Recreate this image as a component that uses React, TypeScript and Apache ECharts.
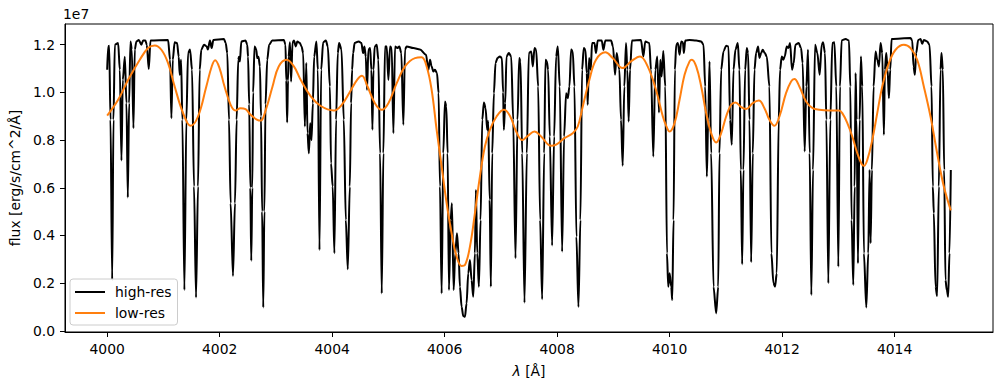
import React, { useEffect, useRef } from "react";
import * as echarts from "echarts";

// High-resolution spectrum: [wavelength (Å), flux (1e7 erg/s/cm^2/Å)]
const highRes: [number, number][] = [
  [4000.0, 1.095], [4000.018, 1.193], [4000.036, 1.196], [4000.059, 0.885], [4000.089, 0.213], [4000.112, 0.885],
  [4000.136, 1.2], [4000.195, 1.207], [4000.225, 1.095], [4000.254, 0.714], [4000.278, 1.053], [4000.314, 1.15],
  [4000.343, 0.955], [4000.367, 0.559], [4000.39, 0.955], [4000.414, 1.214], [4000.438, 1.18], [4000.467, 0.85],
  [4000.491, 1.18], [4000.52, 1.214], [4000.562, 1.22], [4000.609, 1.2], [4000.639, 1.218], [4000.68, 1.218],
  [4000.704, 1.2], [4000.74, 1.098], [4000.77, 1.218], [4001.083, 1.22], [4001.118, 1.137], [4001.142, 0.892],
  [4001.166, 1.137], [4001.2, 1.21], [4001.243, 1.207], [4001.272, 1.15], [4001.29, 1.074], [4001.314, 1.137],
  [4001.337, 0.885], [4001.373, 0.171], [4001.408, 0.885], [4001.438, 1.165], [4001.473, 1.18], [4001.509, 1.095],
  [4001.544, 0.605], [4001.58, 0.14], [4001.615, 0.605], [4001.645, 1.095], [4001.674, 1.18], [4001.722, 1.2],
  [4001.769, 1.193], [4001.79, 1.18], [4001.828, 1.218], [4001.858, 1.186], [4001.888, 1.22], [4002.077, 1.224],
  [4002.107, 1.207], [4002.136, 1.165], [4002.166, 0.885], [4002.195, 0.535], [4002.237, 0.23], [4002.272, 0.535],
  [4002.302, 0.885], [4002.33, 1.137], [4002.345, 1.15], [4002.36, 1.13], [4002.385, 1.214], [4002.46, 1.218],
  [4002.49, 1.2], [4002.505, 1.15], [4002.525, 0.95], [4002.545, 0.6], [4002.562, 0.294], [4002.58, 0.6],
  [4002.595, 1.0], [4002.62, 1.193], [4002.65, 1.18], [4002.669, 1.144], [4002.69, 1.15], [4002.716, 1.109],
  [4002.735, 0.9], [4002.755, 0.5], [4002.775, 0.098], [4002.795, 0.5], [4002.815, 0.95], [4002.846, 1.137],
  [4002.88, 1.2], [4002.935, 1.218], [4003.142, 1.22], [4003.17, 1.2], [4003.185, 1.05], [4003.2, 0.874],
  [4003.215, 1.05], [4003.225, 1.15], [4003.25, 1.21], [4003.27, 1.046], [4003.296, 1.21], [4003.32, 1.218],
  [4003.355, 1.193], [4003.38, 1.214], [4003.426, 1.207], [4003.456, 1.193], [4003.485, 1.165], [4003.515, 0.857],
  [4003.54, 1.123], [4003.562, 0.829], [4003.586, 0.745], [4003.61, 0.871], [4003.633, 0.8], [4003.657, 0.955],
  [4003.68, 1.15], [4003.72, 1.214], [4003.746, 1.095], [4003.775, 0.339], [4003.805, 1.095], [4003.84, 1.21],
  [4003.888, 1.218], [4003.923, 1.193], [4003.96, 1.025], [4003.98, 0.703], [4004.01, 0.605], [4004.04, 0.325],
  [4004.07, 0.885], [4004.1, 1.165], [4004.124, 1.207], [4004.166, 1.18], [4004.207, 0.885], [4004.243, 0.465],
  [4004.278, 0.258], [4004.314, 0.605], [4004.337, 0.955], [4004.355, 1.095], [4004.373, 1.165], [4004.4, 1.207],
  [4004.473, 1.214], [4004.52, 1.207], [4004.55, 1.165], [4004.574, 1.193], [4004.598, 1.15], [4004.62, 1.011],
  [4004.645, 1.18], [4004.675, 1.186], [4004.698, 1.095], [4004.716, 0.843], [4004.734, 1.095], [4004.757, 1.193],
  [4004.793, 1.2], [4004.822, 1.137], [4004.852, 0.745], [4004.882, 0.157], [4004.911, 0.745], [4004.94, 1.193],
  [4004.97, 1.193], [4005.0, 1.053], [4005.03, 1.193], [4005.059, 1.186], [4005.089, 0.829], [4005.118, 1.193],
  [4005.16, 1.186], [4005.195, 1.193], [4005.23, 1.165], [4005.266, 0.864], [4005.296, 1.18], [4005.325, 1.193],
  [4005.444, 1.186], [4005.562, 1.18], [4005.669, 1.158], [4005.71, 1.095], [4005.74, 1.137], [4005.769, 1.109],
  [4005.799, 1.088], [4005.828, 1.095], [4005.864, 1.081], [4005.893, 0.997], [4005.917, 0.605], [4005.947, 0.157],
  [4005.976, 0.745], [4006.006, 0.962], [4006.03, 0.941], [4006.053, 0.745], [4006.077, 0.171], [4006.107, 0.465],
  [4006.13, 0.535], [4006.16, 0.171], [4006.189, 0.325], [4006.219, 0.409], [4006.248, 0.325], [4006.272, 0.185],
  [4006.302, 0.101], [4006.331, 0.062], [4006.361, 0.059], [4006.39, 0.115], [4006.42, 0.241], [4006.45, 0.297],
  [4006.479, 0.213], [4006.509, 0.143], [4006.538, 0.325], [4006.556, 0.591], [4006.58, 0.325], [4006.609, 0.185],
  [4006.639, 0.465], [4006.669, 0.885], [4006.698, 0.958], [4006.728, 0.934], [4006.757, 0.843], [4006.775, 0.88],
  [4006.8, 0.55], [4006.822, 0.185], [4006.846, 0.745], [4006.876, 0.997], [4006.905, 1.123], [4006.94, 1.144],
  [4006.982, 1.151], [4007.018, 1.144], [4007.04, 1.0], [4007.053, 0.843], [4007.077, 0.955], [4007.1, 1.151],
  [4007.142, 1.165], [4007.184, 1.151], [4007.219, 0.885], [4007.26, 0.304], [4007.296, 0.885], [4007.326, 1.144],
  [4007.349, 1.13], [4007.379, 0.745], [4007.42, 0.118], [4007.462, 0.745], [4007.497, 1.165], [4007.539, 1.172],
  [4007.568, 1.109], [4007.598, 1.186], [4007.627, 1.179], [4007.663, 1.025], [4007.698, 0.465], [4007.734, 0.132],
  [4007.77, 0.745], [4007.793, 1.137], [4007.817, 1.13], [4007.84, 1.095], [4007.87, 0.815], [4007.911, 0.358],
  [4007.947, 0.815], [4007.982, 1.151], [4008.012, 1.193], [4008.047, 1.025], [4008.089, 0.332], [4008.124, 0.815],
  [4008.16, 0.997], [4008.19, 0.976], [4008.219, 1.025], [4008.249, 1.18], [4008.278, 1.172], [4008.308, 1.025],
  [4008.343, 0.395], [4008.379, 0.1], [4008.414, 0.465], [4008.444, 1.095], [4008.474, 1.186], [4008.503, 1.179],
  [4008.527, 1.081], [4008.544, 0.948], [4008.568, 1.144], [4008.598, 1.095], [4008.621, 1.207], [4008.663, 1.207],
  [4008.692, 1.165], [4008.722, 1.218], [4008.793, 1.218], [4008.823, 1.179], [4008.858, 1.218], [4008.959, 1.218],
  [4008.994, 1.193], [4009.03, 1.074], [4009.059, 1.165], [4009.107, 1.095], [4009.136, 0.885], [4009.166, 0.692],
  [4009.195, 1.025], [4009.225, 1.207], [4009.249, 1.095], [4009.272, 0.878], [4009.296, 1.095], [4009.331, 1.218],
  [4009.491, 1.22], [4009.533, 1.151], [4009.568, 1.214], [4009.639, 1.207], [4009.669, 1.095], [4009.71, 0.731],
  [4009.746, 1.095], [4009.781, 1.151], [4009.811, 0.916], [4009.834, 1.137], [4009.858, 1.067], [4009.888, 1.174],
  [4009.923, 1.025], [4009.953, 0.325], [4009.976, 0.185], [4010.0, 0.241], [4010.029, 0.185], [4010.047, 0.129],
  [4010.07, 0.465], [4010.094, 1.095], [4010.118, 1.2], [4010.147, 1.207], [4010.177, 1.158], [4010.207, 1.214],
  [4010.236, 1.21], [4010.254, 1.165], [4010.278, 1.218], [4010.355, 1.22], [4010.473, 1.218], [4010.562, 1.214],
  [4010.603, 1.2], [4010.633, 1.025], [4010.662, 0.647], [4010.686, 0.885], [4010.71, 1.13], [4010.739, 0.745],
  [4010.781, 0.185], [4010.828, 0.073], [4010.864, 0.185], [4010.887, 0.745], [4010.917, 1.095], [4010.958, 1.172],
  [4011.005, 1.196], [4011.047, 1.193], [4011.076, 0.885], [4011.106, 0.78], [4011.136, 1.095], [4011.171, 1.18],
  [4011.213, 1.207], [4011.242, 1.095], [4011.266, 0.675], [4011.29, 0.279], [4011.313, 0.675], [4011.343, 1.095],
  [4011.372, 1.186], [4011.396, 1.165], [4011.42, 0.885], [4011.45, 0.288], [4011.479, 0.745], [4011.509, 1.095],
  [4011.538, 1.165], [4011.574, 1.193], [4011.597, 1.144], [4011.627, 1.165], [4011.656, 1.179], [4011.692, 1.165],
  [4011.727, 1.151], [4011.775, 1.025], [4011.81, 0.325], [4011.846, 0.2], [4011.875, 0.185], [4011.905, 0.241],
  [4011.94, 0.885], [4011.964, 1.095], [4011.994, 1.151], [4012.023, 1.137], [4012.047, 1.151], [4012.083, 1.193],
  [4012.112, 1.186], [4012.142, 1.207], [4012.177, 1.095], [4012.207, 1.123], [4012.236, 1.2], [4012.295, 1.207],
  [4012.337, 1.186], [4012.366, 1.123], [4012.402, 0.752], [4012.431, 1.025], [4012.461, 1.179], [4012.49, 0.745],
  [4012.52, 0.15], [4012.55, 0.675], [4012.586, 1.2], [4012.627, 1.165], [4012.668, 1.074], [4012.704, 1.2],
  [4012.728, 1.21], [4012.763, 1.165], [4012.787, 0.885], [4012.822, 0.2], [4012.858, 0.885], [4012.893, 1.207],
  [4012.929, 1.21], [4012.964, 1.025], [4013.0, 0.269], [4013.029, 1.025], [4013.059, 1.218], [4013.13, 1.224],
  [4013.189, 1.218], [4013.213, 1.025], [4013.236, 0.465], [4013.266, 0.192], [4013.29, 0.605], [4013.307, 1.081],
  [4013.325, 0.885], [4013.349, 0.283], [4013.378, 0.885], [4013.402, 1.151], [4013.426, 1.025], [4013.455, 0.325],
  [4013.497, 0.098], [4013.532, 0.325], [4013.556, 0.675], [4013.574, 0.367], [4013.597, 0.675], [4013.627, 1.025],
  [4013.662, 1.172], [4013.692, 1.137], [4013.722, 1.109], [4013.751, 1.207], [4013.781, 1.165], [4013.81, 0.822],
  [4013.828, 1.095], [4013.852, 1.165], [4013.876, 1.095], [4013.899, 0.976], [4013.923, 1.095], [4013.947, 1.224],
  [4014.284, 1.228], [4014.314, 1.218], [4014.337, 1.109], [4014.361, 1.074], [4014.384, 1.165], [4014.42, 1.22],
  [4014.462, 1.224], [4014.491, 1.204], [4014.52, 1.22], [4014.58, 1.214], [4014.621, 1.2], [4014.657, 1.025],
  [4014.68, 0.605], [4014.698, 0.493], [4014.728, 0.185], [4014.757, 0.146], [4014.787, 0.605], [4014.817, 1.095],
  [4014.834, 1.165], [4014.858, 1.095], [4014.882, 0.675], [4014.905, 0.213], [4014.929, 0.171], [4014.953, 0.143],
  [4014.976, 0.325], [4015.0, 0.675],
];

// Low-resolution (convolved) spectrum: [wavelength (Å), flux (1e7)]
const lowRes: [number, number][] = [
  [4000.0, 0.903], [4000.195, 0.969], [4000.373, 1.053], [4000.58, 1.137], [4000.728, 1.186], [4000.846, 1.197],
  [4000.964, 1.179], [4001.083, 1.123], [4001.2, 1.025], [4001.35, 0.913], [4001.485, 0.86], [4001.615, 0.899],
  [4001.763, 1.025], [4001.86, 1.11], [4001.92, 1.135], [4002.0, 1.1], [4002.08, 1.03], [4002.195, 0.948],
  [4002.28, 0.924], [4002.37, 0.934], [4002.46, 0.93], [4002.55, 0.906], [4002.67, 0.885], [4002.73, 0.882],
  [4002.82, 0.927], [4002.94, 1.025], [4003.05, 1.109], [4003.19, 1.137], [4003.32, 1.109], [4003.44, 1.053],
  [4003.62, 0.983], [4003.79, 0.944], [4004.03, 0.924], [4004.17, 0.948], [4004.32, 1.004], [4004.45, 1.055],
  [4004.53, 1.07], [4004.62, 1.03], [4004.76, 0.955], [4004.88, 0.927], [4005.0, 0.955], [4005.148, 1.039],
  [4005.296, 1.109], [4005.473, 1.144], [4005.59, 1.147], [4005.68, 1.109], [4005.769, 1.011], [4005.858, 0.843],
  [4005.947, 0.689], [4006.036, 0.535], [4006.124, 0.409], [4006.213, 0.311], [4006.302, 0.272], [4006.361, 0.276],
  [4006.45, 0.353], [4006.538, 0.493], [4006.627, 0.647], [4006.716, 0.773], [4006.805, 0.843], [4006.923, 0.899],
  [4007.053, 0.927], [4007.16, 0.902], [4007.272, 0.836], [4007.379, 0.8], [4007.479, 0.818], [4007.598, 0.836],
  [4007.716, 0.815], [4007.894, 0.776], [4007.982, 0.781], [4008.13, 0.808], [4008.278, 0.829], [4008.367, 0.857],
  [4008.456, 0.941], [4008.574, 1.053], [4008.692, 1.137], [4008.858, 1.168], [4008.988, 1.144], [4009.166, 1.102],
  [4009.314, 1.13], [4009.474, 1.151], [4009.61, 1.109], [4009.757, 1.011], [4009.88, 0.899], [4009.94, 0.86],
  [4010.0, 0.836], [4010.088, 0.871], [4010.177, 0.969], [4010.266, 1.074], [4010.355, 1.13], [4010.396, 1.137],
  [4010.473, 1.109], [4010.562, 1.025], [4010.65, 0.913], [4010.739, 0.829], [4010.828, 0.79], [4010.917, 0.829],
  [4011.005, 0.899], [4011.094, 0.948], [4011.171, 0.958], [4011.272, 0.938], [4011.36, 0.93], [4011.479, 0.955],
  [4011.586, 0.966], [4011.686, 0.934], [4011.775, 0.885], [4011.863, 0.86], [4011.953, 0.899], [4012.07, 0.997],
  [4012.16, 1.046], [4012.218, 1.056], [4012.307, 1.025], [4012.426, 0.962], [4012.544, 0.934], [4012.662, 0.927],
  [4012.834, 0.924], [4013.012, 0.924], [4013.07, 0.913], [4013.16, 0.871], [4013.248, 0.815], [4013.337, 0.745],
  [4013.414, 0.7], [4013.455, 0.692], [4013.515, 0.717], [4013.603, 0.8], [4013.692, 0.913], [4013.781, 1.025],
  [4013.899, 1.123], [4014.018, 1.179], [4014.166, 1.2], [4014.284, 1.186], [4014.402, 1.137], [4014.52, 1.025],
  [4014.639, 0.899], [4014.757, 0.745], [4014.876, 0.605], [4015.0, 0.505],
];

const xTicks = [4000, 4002, 4004, 4006, 4008, 4010, 4012, 4014];
const yTicks = [0, 0.2, 0.4, 0.6, 0.8, 1.0, 1.2];
const seriesNames = ["high-res", "low-res"];
const seriesColors = ["#000000", "#ff7f0e"];

const FONT = "DejaVu Sans";
const FS = 13.9;

export default function App() {
  const ref = useRef<HTMLDivElement>(null);
  useEffect(() => {
    document.body.style.margin = "0";
    if (!ref.current) return;
    const chart = echarts.init(ref.current, undefined, { renderer: "svg" });
    chart.setOption({
      animation: false,
      backgroundColor: "#ffffff",
      textStyle: { fontFamily: FONT },
      grid: {
        left: 63,
        right: 10,
        top: 24,
        bottom: 58,
        show: true,
        borderColor: "#000000",
        borderWidth: 1,
        backgroundColor: "transparent",
      },
      legend: {
        show: true,
        orient: "vertical",
        left: 70,
        top: 279,
        data: seriesNames,
        icon: "rect",
        itemWidth: 30,
        itemHeight: 2,
        itemGap: 5,
        padding: [5, 6, 4, 5],
        backgroundColor: "rgba(255,255,255,0.8)",
        borderColor: "#cccccc",
        borderWidth: 1,
        borderRadius: 3,
        textStyle: { fontFamily: FONT, fontSize: FS, color: "#000000", lineHeight: 16, padding: [0, 0, 0, 5] },
      },
      xAxis: {
        type: "value",
        min: 3999.25,
        max: 4015.75,
        name: "{i|λ} [Å]",
        nameLocation: "middle",
        nameGap: 32,
        nameTextStyle: {
          fontFamily: FONT,
          fontSize: FS,
          color: "#000000",
          rich: { i: { fontStyle: "italic", fontFamily: FONT, fontSize: FS, color: "#000000" } },
        },
        axisLine: { show: true, onZero: false, lineStyle: { color: "#000000", width: 1 } },
        axisTick: { show: true, length: 5, customValues: xTicks, lineStyle: { color: "#000000", width: 1 } },
        axisLabel: {
          show: true,
          customValues: xTicks,
          margin: 10,
          fontFamily: FONT,
          fontSize: FS,
          color: "#000000",
          formatter: (v: number) => String(Math.round(v)),
        },
        splitLine: { show: false },
      },
      yAxis: {
        type: "value",
        min: -0.005,
        max: 1.287,
        name: "flux [erg/s/cm^2/Å]",
        nameLocation: "middle",
        nameGap: 37,
        nameRotate: 90,
        nameTextStyle: { fontFamily: FONT, fontSize: FS, color: "#000000" },
        axisLine: { show: true, onZero: false, lineStyle: { color: "#000000", width: 1 } },
        axisTick: { show: true, length: 5, customValues: yTicks, lineStyle: { color: "#000000", width: 1 } },
        axisLabel: {
          show: true,
          customValues: yTicks,
          margin: 10,
          fontFamily: FONT,
          fontSize: FS,
          color: "#000000",
          formatter: (v: number) => v.toFixed(1),
        },
        splitLine: { show: false },
      },
      graphic: [
        {
          type: "text",
          left: 63,
          top: 7,
          style: { text: "1e7", fontFamily: FONT, fontSize: FS, fill: "#000000" },
        },
      ],
      series: [
        {
          name: seriesNames[0],
          type: "line",
          data: highRes,
          showSymbol: false,
          symbol: "none",
          smooth: 0.3,
          smoothMonotone: "x",
          lineStyle: { color: seriesColors[0], width: 2 },
          itemStyle: { color: seriesColors[0] },
          z: 2,
        },
        {
          name: seriesNames[1],
          type: "line",
          data: lowRes,
          showSymbol: false,
          symbol: "none",
          smooth: 0.4,
          lineStyle: { color: seriesColors[1], width: 2 },
          itemStyle: { color: seriesColors[1] },
          z: 3,
        },
      ],
    });
    return () => chart.dispose();
  }, []);
  return <div ref={ref} style={{ width: 1003, height: 390 }} />;
}
